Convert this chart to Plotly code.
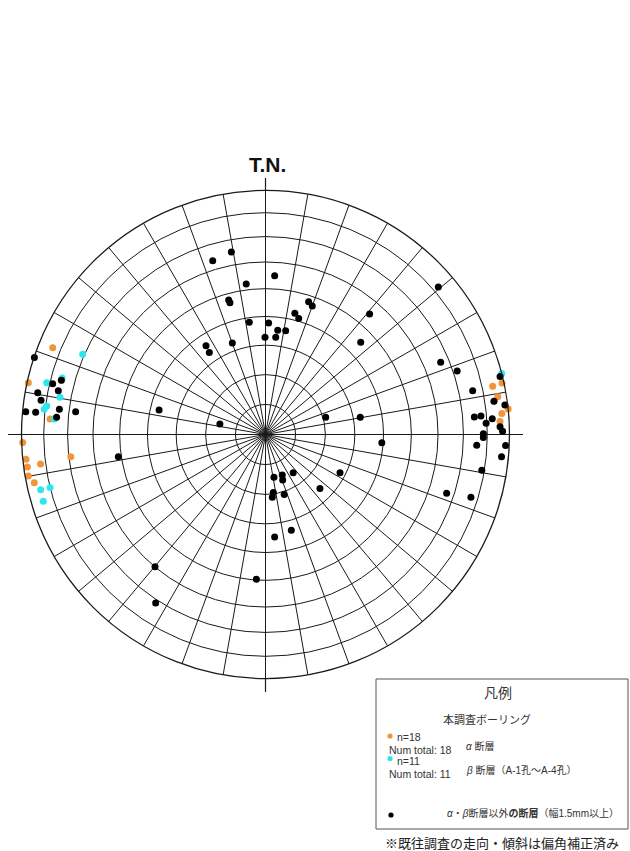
import numpy as np
import plotly.graph_objects as go

# ---- data: poles (azimuth deg clockwise from T.N., dip deg) ----
orange_az = [292.2, 282.3, 274.1, 268.1, 263.5, 264.1, 262.2, 262.5, 260.1, 258.2,
             77.7, 78.0, 80.8, 84.0, 84.9, 86.8, 284.9, 81.7]
orange_dip = [83.5, 89.4, 77.5, 89.5, 69.2, 88.5, 88.3, 82.2, 88.5, 86.4,
              89.1, 84.6, 86.0, 90.0, 86.9, 85.8, 75.5, 84.0]

cyan_az = [293.7, 283.3, 285.5, 280.3, 277.4, 276.5, 274.2, 256.2, 256.2, 253.3, 75.5]
cyan_dip = [70.7, 81.3, 75.4, 74.5, 79.5, 80.4, 75.7, 84.3, 80.0, 84.5, 90.0]

black_az = [288.4, 283.4, 284.9, 280.4, 281.9, 278.7, 275.4, 275.5, 277.0, 276.8, 274.7, 283.0, 261.4,
            67.6, 71.7, 76.1, 78.1, 81.7, 83.0, 85.2, 85.1, 86.0, 87.1, 88.1, 89.2, 89.8, 90.8, 92.9, 92.6, 95.4, 99.4,
            343.1, 349.4, 3.3, 352.7, 344.7, 344.9, 18.0, 20.0, 13.6, 16.0, 40.8, 351.8, 1.6, 6.7, 11.0, 359.7, 6.0,
            326.2, 325.6, 340.1, 45.9, 49.5,
            74.1, 79.7, 94.0, 283.0, 168.8, 157.5, 159.3, 144.0, 117.2, 134.8, 172.3, 173.8, 162.7, 164.9, 174.9,
            219.9, 183.6, 213.1, 108.0, 107.0]
black_dip = [89.8, 78.7, 75.5, 84.3, 75.7, 82.3, 88.5, 84.0, 74.0, 67.3, 74.8, 36.9, 51.1,
             66.6, 71.6, 88.9, 75.7, 84.0, 88.7, 74.8, 77.6, 82.4, 79.6, 85.7, 86.8, 78.3, 78.3, 75.6, 88.3, 86.8, 78.9,
             63.5, 65.1, 54.9, 52.2, 47.7, 46.6, 47.7, 46.7, 42.4, 40.9, 55.0, 38.4, 37.7, 35.4, 35.7, 32.7, 32.9,
             36.1, 33.5, 32.8, 45.2, 82.4,
             20.9, 32.4, 39.5, 15.6, 14.5, 14.6, 16.2, 15.7, 28.1, 25.7, 19.5, 21.1, 21.0, 33.4, 34.7,
             59.9, 49.7, 71.3, 67.0, 77.0]

ring_dips = [10, 20, 30, 40, 50, 60, 70, 80]

ORANGE = "#F0963A"
CYAN = "#2EE6F2"
BLACK = "#000000"
GRID = "#1a1a1a"

W, H = 630, 851


def eq_area(dip):
    """Schmidt equal-area projection, normalised radius (90 deg -> 1)."""
    return np.sqrt(2.0) * np.sin(np.radians(np.asarray(dip, dtype=float)) / 2.0)


def px(x, y):
    return x / W, (H - y) / H


fig = go.Figure()
for az, dip, col in [(orange_az, orange_dip, ORANGE),
                     (cyan_az, cyan_dip, CYAN),
                     (black_az, black_dip, BLACK)]:
    fig.add_trace(go.Scatterpolar(
        r=eq_area(dip), theta=az, mode="markers",
        marker=dict(size=7, color=col, line=dict(width=0)),
        cliponaxis=False, showlegend=False, hoverinfo="skip"))

cx, cy, R = 265.5, 434.5, 244
x0, y1 = px(cx - R, cy + R)
x1, y0 = px(cx + R, cy - R)

fig.update_layout(
    width=W, height=H,
    margin=dict(l=0, r=0, t=0, b=0),
    paper_bgcolor="white", plot_bgcolor="white",
    showlegend=False,
    polar=dict(
        domain=dict(x=[x0, x1], y=[y1, y0]),
        bgcolor="white",
        radialaxis=dict(range=[0, 1], tickvals=list(eq_area(ring_dips)),
                        showticklabels=False, ticks="", showline=False,
                        gridcolor=GRID, gridwidth=1.2),
        angularaxis=dict(rotation=90, direction="clockwise", dtick=10,
                         showticklabels=False, ticks="", showline=True,
                         linecolor=GRID, linewidth=1.3,
                         gridcolor=GRID, gridwidth=1.2),
    ),
)

shapes = []
# cross-hair extensions beyond the net
hx0, hy = px(8, cy)
hx1, _ = px(523, cy)
shapes.append(dict(type="line", xref="paper", yref="paper", x0=hx0, x1=hx1, y0=hy, y1=hy,
                   line=dict(color=GRID, width=1.2), layer="below"))
vx, vy0 = px(cx, 178)
_, vy1 = px(cx, 692)
shapes.append(dict(type="line", xref="paper", yref="paper", x0=vx, x1=vx, y0=vy0, y1=vy1,
                   line=dict(color=GRID, width=1.2), layer="below"))
# legend box
bx0, by0 = px(376, 679)
bx1, by1 = px(628, 829)
shapes.append(dict(type="rect", xref="paper", yref="paper", x0=bx0, x1=bx1, y0=by1, y1=by0,
                   line=dict(color="#555555", width=1), fillcolor="white"))
# legend symbols
for (lx, ly, col) in [(390, 736, ORANGE), (390, 758.5, CYAN), (391, 815, BLACK)]:
    ax0, ay0 = px(lx - 2.6, ly + 2.6)
    ax1, ay1 = px(lx + 2.6, ly - 2.6)
    shapes.append(dict(type="circle", xref="paper", yref="paper", x0=ax0, x1=ax1, y0=ay0, y1=ay1,
                       fillcolor=col, line=dict(width=0)))
fig.update_layout(shapes=shapes)

FONT = "Liberation Sans, Arial, Noto Sans CJK JP"
TXT = "#333333"


def ann(x, y, text, size=10, anchor="left", color=TXT, family=FONT):
    ax, ay = px(x, y)
    fig.add_annotation(x=ax, y=ay, xref="paper", yref="paper", text=text, showarrow=False,
                       xanchor=anchor, yanchor="middle",
                       font=dict(size=size, color=color, family=family))


ann(267, 164, "<b>T.N.</b>", size=21, anchor="center", color="#111111")
ann(498, 693, "凡例", size=14, anchor="center")
ann(487, 719, "本調査ボーリング", size=11, anchor="center")
ann(395, 737, "n=18", size=10.5)
ann(387, 750, "Num total: 18", size=10.5)
ann(464, 746, "<i>α</i> 断層", size=10)
ann(395, 761, "n=11", size=10.5)
ann(387, 774, "Num total: 11", size=10.5)
ann(464, 770, "<i>β</i> 断層（A-1孔～A-4孔）", size=10)
ann(445, 813, "<i>α</i>・<i>β</i>断層以外<b>の断層</b>（幅1.5mm以上）", size=10)
ann(383, 842, "※既往調査の走向・傾斜は偏角補正済み", size=13, color="#222222",
    family="Noto Sans CJK JP")

fig.write_html("out.html",
               config={"displayModeBar": False},
               post_script="document.body.style.margin='0';document.body.style.overflow='hidden';")
